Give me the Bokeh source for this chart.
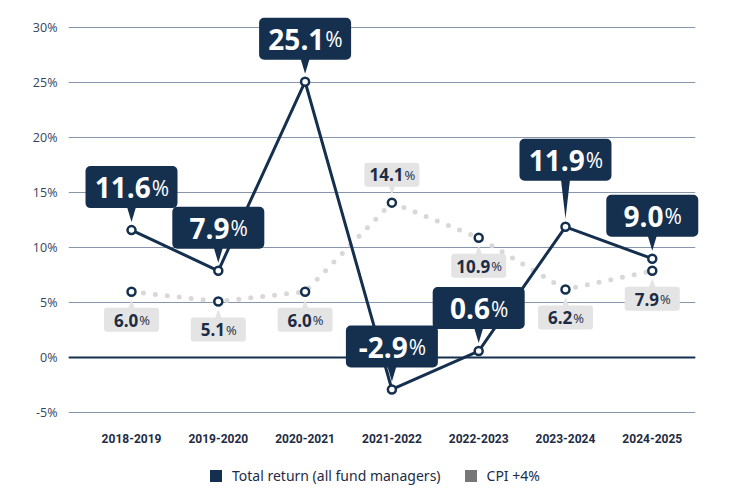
from bokeh.plotting import figure
from bokeh.models import Range1d, FixedTicker, Legend, LegendItem, Span
from bokeh.embed import file_html
from bokeh.resources import INLINE
from bokeh.core.properties import value

# ---- data -------------------------------------------------------------
periods = ["2018-2019", "2019-2020", "2020-2021", "2021-2022",
           "2022-2023", "2023-2024", "2024-2025"]
total_return = [11.6, 7.9, 25.1, -2.9, 0.6, 11.9, 9.0]
cpi_plus4 = [6.0, 5.1, 6.0, 14.1, 10.9, 6.2, 7.9]
y_ticks = [-5, 0, 5, 10, 15, 20, 25, 30]

# ---- styling ----------------------------------------------------------
NAVY = "#15304f"
GRID = "#8796ab"
DOTS = "#d8d8d8"
PALE_BOX = "#e4e4e4"
TEXT_DARK = "#1d2c44"
FONT = "Open Sans"

# the frame runs down to the bottom edge so period labels and legend sit inside it
FRAME_W, FRAME_H = 627, 488
X0, X1 = -0.726, 6.498
Y0, Y1 = -13.0, 31.4
PX_X = FRAME_W / (X1 - X0)   # pixels per x unit
PX_Y = FRAME_H / (Y1 - Y0)   # pixels per y unit

idx = list(range(len(periods)))

p = figure(frame_width=FRAME_W, frame_height=FRAME_H,
           x_range=Range1d(X0, X1), y_range=Range1d(Y0, Y1),
           output_backend="svg", toolbar_location=None,
           min_border_left=68, min_border_right=55,
           min_border_top=12, min_border_bottom=0)
p.outline_line_color = None
p.background_fill_color = "white"

# grid and axes
p.xgrid.visible = False
p.xaxis.visible = False
p.ygrid.ticker = FixedTicker(ticks=y_ticks)
p.ygrid.grid_line_color = GRID
p.ygrid.grid_line_width = 1

p.yaxis.ticker = FixedTicker(ticks=y_ticks)
p.yaxis.major_label_overrides = {t: f"{t}%" for t in y_ticks}
p.yaxis.axis_line_color = None
p.yaxis.major_tick_line_color = None
p.yaxis.minor_tick_line_color = None
p.yaxis.major_label_standoff = 5
p.yaxis.major_label_text_font = FONT
p.yaxis.major_label_text_font_size = "12.5px"
p.yaxis.major_label_text_color = "#34445c"

p.add_layout(Span(location=0, dimension="width", line_color=NAVY, line_width=2,
                  level="underlay"))

# period labels under the lowest gridline
label_y = min(y_ticks) - 26 / PX_Y
p.text(x=idx, y=[label_y] * len(idx), text=periods, text_align="center",
       text_baseline="middle", text_color=TEXT_DARK, text_font=value("Roboto"),
       text_font_style="bold", text_font_size="12px")

# ---- series -----------------------------------------------------------
p.line(idx, cpi_plus4, line_color=DOTS, line_width=5, line_dash="0 12", line_cap="round")
p.scatter(idx, cpi_plus4, size=8, fill_color="white", line_color=NAVY, line_width=2.5)
p.line(idx, total_return, line_color=NAVY, line_width=3, line_join="round")
p.scatter(idx, total_return, size=8, fill_color="white", line_color=NAVY, line_width=2.5)

# width estimate of a label (em units) to centre number + smaller "%"
EM = {".": 0.283, "-": 0.322}
def text_w(s, size):
    return sum(EM.get(c, 0.572) for c in s) * size


def callouts(vals, box_w, box_h, lifts, above, fill, txt_color, num_size, pct_size,
             radius, tip_gap, half_base):
    L, R, B, T = [], [], [], []
    tri_x, tri_y = [], []
    num_y, nums, offs = [], [], []
    for i, v in enumerate(vals):
        lift = lifts[i]
        if above[i]:
            b = v + lift / PX_Y
            t = b + box_h / PX_Y
            tri_x.append([i - half_base / PX_X, i + half_base / PX_X, i])
            tri_y.append([b + 1 / PX_Y, b + 1 / PX_Y, v + tip_gap / PX_Y])
        else:
            t = v - lift / PX_Y
            b = t - box_h / PX_Y
            tri_x.append([i - half_base / PX_X, i + half_base / PX_X, i])
            tri_y.append([t - 1 / PX_Y, t - 1 / PX_Y, v - tip_gap / PX_Y])
        L.append(i - box_w / 2 / PX_X)
        R.append(i + box_w / 2 / PX_X)
        B.append(b)
        T.append(t)
        num_y.append((b + t) / 2 - 0.02 * num_size / PX_Y)
        s = f"{v:.1f}"
        nums.append(s)
        nw = text_w(s, num_size)
        pw = 0.83 * pct_size
        offs.append((nw + pw) / 2 - pw)
    kw = dict(level="annotation")
    p.quad(left=L, right=R, bottom=B, top=T, fill_color=fill, line_color=None,
           border_radius=radius, **kw)
    p.patches(tri_x, tri_y, fill_color=fill, line_color=None, **kw)
    p.text(x=idx, y=num_y, text=nums, x_offset=offs, text_align="right",
           text_baseline="alphabetic", text_color=txt_color,
           text_font=value(FONT), text_font_style="bold",
           text_font_size=f"{num_size}px", **kw)
    p.text(x=idx, y=num_y, text=["%"] * len(vals), x_offset=[o + 1 for o in offs],
           text_align="left", text_baseline="alphabetic", text_color=txt_color,
           text_font=value(FONT), text_font_style="normal",
           text_font_size=f"{pct_size}px", **kw)


# light callouts for CPI +4%
callouts(cpi_plus4, 55, 24, [16] * 7, [False, False, False, True, False, False, False],
         PALE_BOX, TEXT_DARK, 17, 13, 3, 8, 3.5)
# dark callouts for total return
callouts(total_return, 92, 42, [22, 22, 22, 22, 22, 46, 22], [True] * 7,
         NAVY, "white", 28, 21, 5, 8, 4.5)

# ---- legend (inside the frame, near its bottom edge) --------------------
# swatch renderers sit just outside the visible x range; only their legend entries show
off_l, off_r = [X1 + 1], [X1 + 2]
off_b, off_t = [Y0], [Y0 + 1]
r_tr = p.quad(left=off_l, right=off_r, bottom=off_b, top=off_t, fill_color=NAVY,
              line_color=None, border_radius=3)
r_cpi = p.quad(left=off_l, right=off_r, bottom=off_b, top=off_t, fill_color="#777777",
               line_color=None, border_radius=3)
legend = Legend(items=[LegendItem(label="Total return (all fund managers)", renderers=[r_tr]),
                       LegendItem(label="CPI +4%", renderers=[r_cpi])],
                orientation="horizontal", location=(140, 15),
                glyph_width=15, glyph_height=15, spacing=22, label_standoff=9,
                label_text_font="Noto Sans", label_text_font_size="14px",
                label_text_color=TEXT_DARK, border_line_color=None,
                background_fill_alpha=0, padding=2, margin=0)
p.add_layout(legend, "center")

open("out.html", "w").write(file_html(p, INLINE))
